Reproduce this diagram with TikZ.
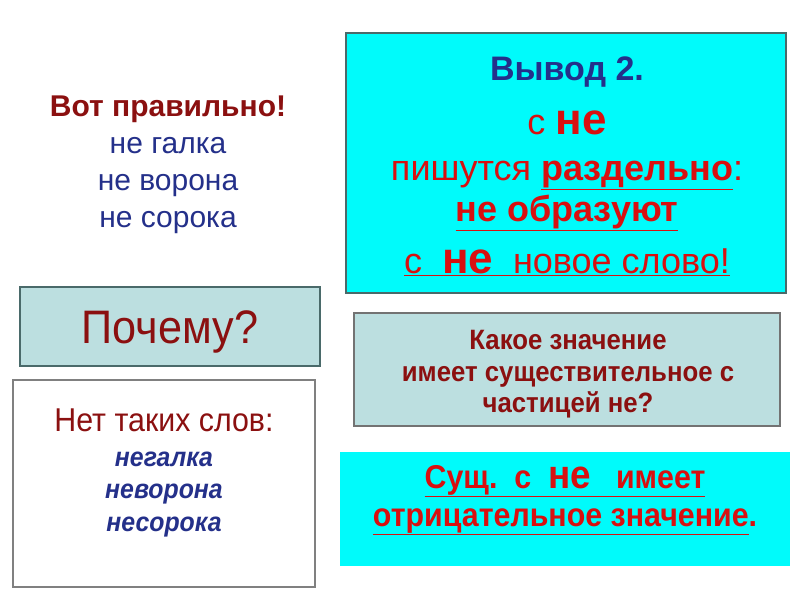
\documentclass[tikz,border=0pt]{standalone}
\usepackage{fontspec}
\setmainfont{Liberation Sans}
\newfontfamily\narrowf[FakeStretch=0.92]{Liberation Sans}
\definecolor{dred}{HTML}{8B1010}
\definecolor{dblue}{HTML}{24308A}
\definecolor{rred}{HTML}{D81010}
\definecolor{cyanb}{HTML}{00FBFB}
\definecolor{grayb}{HTML}{BCDFE0}
\definecolor{edge}{HTML}{4A6A6A}
\newcommand{\fs}[1]{\fontsize{#1}{#1}\selectfont}
\tikzset{x=1pt,y=-1pt,
 box/.style={draw=edge,line width=1.2pt},
 txt/.style={inner sep=0pt,anchor=base,align=center}}
\begin{document}
\begin{tikzpicture}
\useasboundingbox (0,0) rectangle (800,600);
\fill[white] (0,0) rectangle (800,600);
% boxes
\draw[box,fill=cyanb] (346,33) rectangle (786,293);
\draw[box,fill=grayb] (20,287) rectangle (320,366);
\draw[box,draw=gray,fill=white] (13,380) rectangle (315,587);
\draw[box,draw=gray!90!black,fill=grayb] (354,313) rectangle (780,426);
\fill[cyanb] (340,452) rectangle (790,566);
% left texts
\node[txt,text=dred] (t1) at (168,116) {\fs{30}\textbf{Вот правильно!}};
\node[txt,text=dblue] (t2) at (168,153) {\fs{30}не галка};
\node[txt,text=dblue] (t3) at (168,190) {\fs{30}не ворона};
\node[txt,text=dblue] (t4) at (168,227) {\fs{30}не сорока};
% cyan box
\node[txt,text=dblue] (v1) at (567,80) {\fs{34}\textbf{Вывод 2.}};
\node[txt,text=rred] (v2) at (567,134) {\fs{36}с \fs{44}\textbf{не}};
\node[txt,text=rred] (v3) at (567,180) {\fs{36}пишутся \underline{\textbf{раздельно}}:};
\node[txt,text=rred] (v4) at (567,221) {\fs{36}\underline{\textbf{не образуют}}};
\node[txt,text=rred] (v5) at (567,273) {\fs{36}\underline{с\ \ \fs{44}\textbf{не}\fs{36}\ \ новое слово!}};
% Почему
\node[txt,text=dred] (p) at (170,343) {\fs{47}\narrowf Почему?};
% Нет таких
\node[txt,text=dred] (n1) at (164,431) {\fs{33}\narrowf Нет таких слов:};
\node[txt,text=dblue] (n2) at (164,466) {\fs{27}\narrowf\bfseries\itshape негалка};
\node[txt,text=dblue] (n3) at (164,498) {\fs{27}\narrowf\bfseries\itshape неворона};
\node[txt,text=dblue] (n4) at (164,531) {\fs{27}\narrowf\bfseries\itshape несорока};
% Какое
\node[txt,text=dred] (k1) at (568,349) {\fs{28}\narrowf\bfseries Какое значение};
\node[txt,text=dred] (k2) at (568,381) {\fs{28}\narrowf\bfseries имеет существительное с};
\node[txt,text=dred] (k3) at (568,412) {\fs{28}\narrowf\bfseries частицей не?};
% Сущ
\node[txt,text=rred] (s1) at (565,488) {\fs{33}\narrowf\bfseries\underline{Сущ.\ \ с\ \ \fs{40}не\fs{33}\ \ \ имеет}};
\node[txt,text=rred] (s2) at (565,526) {\fs{33}\narrowf\bfseries\underline{отрицательное значение}.};
\end{tikzpicture}
\end{document}
